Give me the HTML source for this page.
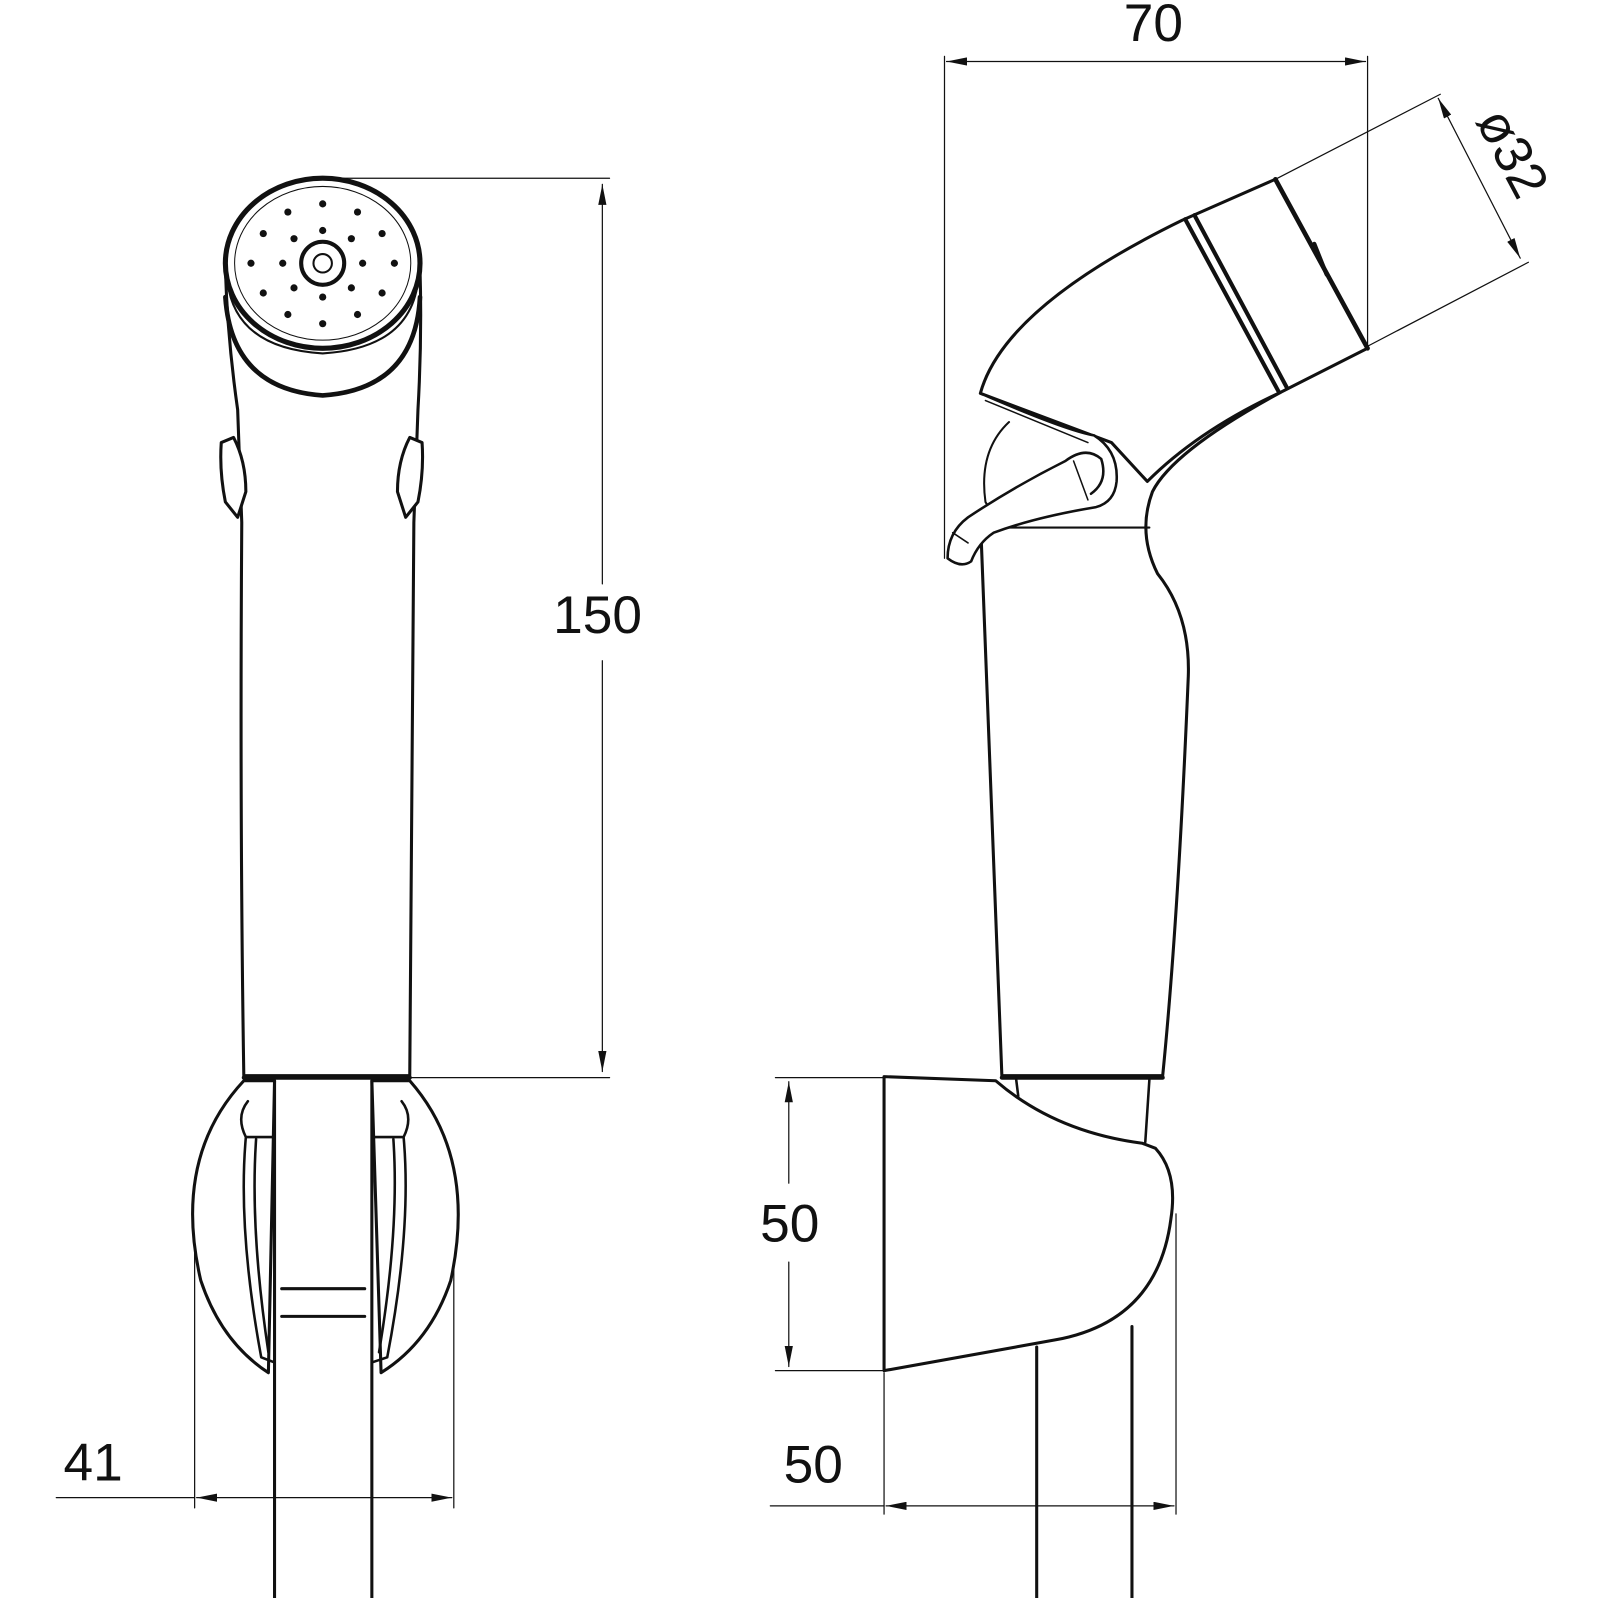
<!DOCTYPE html>
<html><head><meta charset="utf-8"><style>
html,body{margin:0;padding:0;background:#fff}
svg{display:block}
text{font-family:"Liberation Sans",sans-serif;font-size:52px;fill:#111}
</style></head><body>
<svg width="1598" height="1598" viewBox="0 0 1598 1598" xmlns="http://www.w3.org/2000/svg">
<defs>
<marker id="a" viewBox="0 0 20 8" refX="20" refY="4" markerWidth="20" markerHeight="8" markerUnits="userSpaceOnUse" orient="auto-start-reverse"><path d="M0,0 L20,4 L0,8 z" fill="#111"/></marker>
</defs>
<g transform="scale(1.0244)" fill="none" stroke="#111" stroke-linejoin="round" stroke-linecap="round">
<g stroke-width="1.2">
<line x1="330" y1="174" x2="595" y2="174"/>
<line x1="400" y1="1052" x2="595" y2="1052"/>
<line x1="588" y1="180" x2="588" y2="570" marker-start="url(#a)"/>
<line x1="588" y1="645" x2="588" y2="1046" marker-end="url(#a)"/>
<line x1="190" y1="1200" x2="190" y2="1472"/>
<line x1="443" y1="1180" x2="443" y2="1472"/>
<line x1="55" y1="1462" x2="190" y2="1462"/>
<line x1="192" y1="1462" x2="441" y2="1462" marker-start="url(#a)" marker-end="url(#a)"/>
</g>
<path d="M220,262 Q222,330 232,400 L236,510 Q234,800 238,1050 L400,1050 Q402,800 404,510 L408,400 Q412,330 410,262" stroke-width="3" fill="#fff"/>
<path d="M220,290 Q226,380 315,386 Q405,380 410,290" stroke-width="4.5"/>
<ellipse cx="315" cy="257" rx="95" ry="83" stroke-width="5" fill="#fff"/>
<path d="M222,275 Q230,340 315,345 Q400,340 408,275" stroke-width="2"/>
<ellipse cx="315" cy="257" rx="86" ry="75" stroke-width="1"/>
<circle cx="315" cy="257" r="21" stroke-width="4"/>
<circle cx="315" cy="257" r="9" stroke-width="2"/>
<g fill="#111" stroke="none">
<circle cx="315" cy="199" r="3.5"/><circle cx="281" cy="207" r="3.5"/><circle cx="349" cy="207" r="3.5"/>
<circle cx="257" cy="228" r="3.5"/><circle cx="373" cy="228" r="3.5"/><circle cx="315" cy="225" r="3.5"/>
<circle cx="287" cy="233" r="3.5"/><circle cx="343" cy="233" r="3.5"/>
<circle cx="245" cy="257" r="3.5"/><circle cx="385" cy="257" r="3.5"/><circle cx="276" cy="257" r="3.5"/><circle cx="354" cy="257" r="3.5"/>
<circle cx="287" cy="281" r="3.5"/><circle cx="343" cy="281" r="3.5"/><circle cx="315" cy="290" r="3.5"/>
<circle cx="257" cy="286" r="3.5"/><circle cx="373" cy="286" r="3.5"/>
<circle cx="281" cy="307" r="3.5"/><circle cx="349" cy="307" r="3.5"/><circle cx="315" cy="316" r="3.5"/>
</g>
<path d="M216,432 L228,427 Q240,450 240,480 L232,505 L220,490 Q214,460 216,432 z" stroke-width="3" fill="#fff"/>
<path d="M412,432 L400,427 Q388,450 388,480 L396,505 L408,490 Q414,460 412,432 z" stroke-width="3" fill="#fff"/>
<line x1="238" y1="1052" x2="400" y2="1052" stroke-width="4"/>
<path d="M238,1055 Q168,1130 196,1250 Q216,1310 262,1340 L268,1055 z" stroke-width="3" fill="#fff"/>
<path d="M400,1055 Q466,1130 440,1250 Q420,1310 372,1340 L363,1055 z" stroke-width="3" fill="#fff"/>
<line x1="268" y1="1055" x2="268" y2="1598" stroke-width="3"/>
<line x1="363" y1="1055" x2="363" y2="1598" stroke-width="3"/>
<line x1="275" y1="1258" x2="356" y2="1258" stroke-width="3"/>
<line x1="275" y1="1285" x2="356" y2="1285" stroke-width="3"/>
<path d="M242,1075 Q230,1090 240,1110 L268,1110 M240,1110 Q232,1200 255,1325 L268,1330 M250,1112 Q244,1200 262,1320" stroke-width="2.5"/>
<path d="M392,1075 Q404,1090 394,1110 L363,1110 M394,1110 Q402,1200 378,1325 L363,1330 M384,1112 Q390,1200 370,1320" stroke-width="2.5"/>
<g stroke-width="1.2">
<line x1="922" y1="55" x2="922" y2="545"/>
<line x1="1335" y1="55" x2="1335" y2="340"/>
<line x1="924" y1="60" x2="1333" y2="60" marker-start="url(#a)" marker-end="url(#a)"/>
<line x1="1245" y1="175" x2="1406" y2="92"/>
<line x1="1335" y1="338" x2="1492" y2="256"/>
<line x1="1404" y1="96" x2="1484" y2="252" marker-start="url(#a)" marker-end="url(#a)"/>
<line x1="757" y1="1052" x2="863" y2="1052"/>
<line x1="757" y1="1338" x2="863" y2="1338"/>
<line x1="770" y1="1056" x2="770" y2="1155" marker-start="url(#a)"/>
<line x1="770" y1="1232" x2="770" y2="1334" marker-end="url(#a)"/>
<line x1="863" y1="1340" x2="863" y2="1478"/>
<line x1="1148" y1="1185" x2="1148" y2="1478"/>
<line x1="752" y1="1470" x2="863" y2="1470"/>
<line x1="865" y1="1470" x2="1146" y2="1470" marker-start="url(#a)" marker-end="url(#a)"/>
</g>
<path d="M958,530 L978,1050 L1135,1050 Q1150,900 1160,660 Q1162,600 1130,560 Q1110,520 1125,480 Q1145,440 1250,383" stroke-width="3" fill="#fff"/>
<line x1="975" y1="515" x2="1122" y2="515" stroke-width="2"/>
<line x1="978" y1="1052" x2="1135" y2="1052" stroke-width="4"/>
<path d="M957,384 Q980,300 1154,215 L1245,175 L1335,340 L1250,383 Q1170,420 1120,470 L1085,432 z" stroke-width="3" fill="#fff"/>
<line x1="1245" y1="175" x2="1335" y2="340" stroke-width="4.5"/>
<line x1="1157" y1="214" x2="1248" y2="382" stroke-width="4"/>
<line x1="1166" y1="210" x2="1256" y2="378" stroke-width="4"/>
<line x1="1283" y1="238" x2="1295" y2="268" stroke-width="4"/>
<path d="M985,412 Q955,440 962,490 Q970,505 985,505" stroke-width="2"/>
<path d="M957,384 Q1040,420 1068,425 Q1092,440 1090,470 Q1088,490 1070,495 Q1010,505 970,520 Q955,530 948,548 Q938,555 925,545 Q925,520 945,505 Q990,475 1040,450 Q1060,435 1075,448 Q1082,470 1065,482" stroke-width="2.5" fill="#fff"/>
<path d="M962,391 L1062,432 M1048,450 L1062,488 M930,520 L945,530" stroke-width="1.5"/>
<path d="M863,1051 L972,1055 Q1030,1105 1115,1116 L1128,1121 Q1150,1145 1143,1190 Q1130,1290 1030,1308 L863,1338 z" stroke-width="3" fill="#fff"/>
<line x1="1012" y1="1315" x2="1012" y2="1598" stroke-width="3"/>
<line x1="1105" y1="1295" x2="1105" y2="1598" stroke-width="3"/>
<line x1="992" y1="1054" x2="994" y2="1070" stroke-width="2.5"/>
<line x1="1122" y1="1054" x2="1118" y2="1115" stroke-width="2.5"/>
</g>
<g transform="scale(1.0244)">
<text x="540" y="618">150</text>
<text x="62" y="1445">41</text>
<text x="1097" y="40">70</text>
<text x="742" y="1212">50</text>
<text x="765" y="1447">50</text>
<text transform="translate(1440,118) rotate(62)">ø32</text>
</g>
</svg>
</body></html>
